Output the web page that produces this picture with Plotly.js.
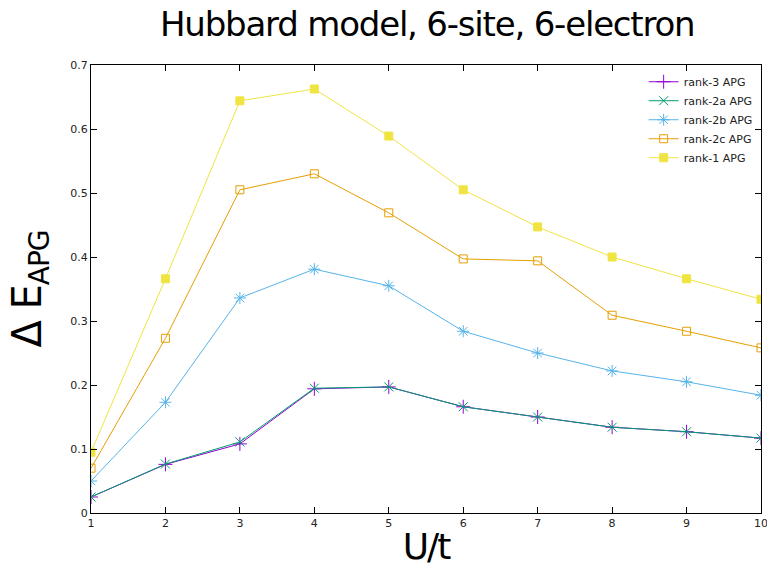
<!DOCTYPE html>
<html>
<head>
<meta charset="utf-8">
<script src="https://cdn.plot.ly/plotly-3.0.1.min.js"></script>
<style>
html,body{margin:0;padding:0;background:#fff;}
#chart{width:767px;height:567px;}
#chart .gtitle{letter-spacing:-1.2px;}
#chart .xtitle{letter-spacing:-2px;}
#chart .ytitle{letter-spacing:-1px;}
</style>
</head>
<body>
<div id="chart"></div>
<script>
const U = [1, 2, 3, 4, 5, 6, 7, 8, 9, 10];
const rank3  = [0.025, 0.076, 0.108, 0.194, 0.197, 0.166, 0.150, 0.134, 0.127, 0.117];
const rank2a = [0.025, 0.0765, 0.111, 0.195, 0.197, 0.166, 0.150, 0.134, 0.127, 0.117];
const rank2b = [0.050, 0.173, 0.336, 0.381, 0.355, 0.284, 0.250, 0.222, 0.205, 0.184];
const rank2c = [0.070, 0.273, 0.505, 0.530, 0.469, 0.397, 0.394, 0.309, 0.284, 0.258];
const rank1  = [0.095, 0.366, 0.644, 0.6625, 0.589, 0.505, 0.447, 0.400, 0.366, 0.334];
const seriesNames = ["rank-3 APG", "rank-2a APG", "rank-2b APG", "rank-2c APG", "rank-1 APG"];
const xTicks = [1, 2, 3, 4, 5, 6, 7, 8, 9, 10];
const yTicks = [0, 0.1, 0.2, 0.3, 0.4, 0.5, 0.6, 0.7];
const yTickText = ["0", "0.1", "0.2", "0.3", "0.4", "0.5", "0.6", "0.7"];

const colors = ["#9400d3", "#009e73", "#56b4e9", "#e69f00", "#f0e442"];
const symbols = ["cross-thin-open", "x-thin-open", "asterisk-open", "square-open", "square"];
const sizes = [10, 9, 10, 8, 8];
const ys = [rank3, rank2a, rank2b, rank2c, rank1];

const traces = ys.map((y, i) => ({
  x: U, y: y, name: seriesNames[i], type: "scatter", mode: "lines+markers",
  line: {color: colors[i], width: 1},
  marker: {symbol: symbols[i], size: sizes[i], color: colors[i], line: {color: colors[i], width: 1}}
}));

const axisCommon = {
  showgrid: false, zeroline: false, showline: true, mirror: "allticks",
  linecolor: "#000", linewidth: 1, ticks: "inside", ticklen: 6, tickcolor: "#000",
  ticklabeloverflow: "allow",
  tickfont: {family: "DejaVu Sans", size: 11, color: "#222"}
};

const layout = {
  width: 767, height: 567,
  margin: {l: 91, r: 6, t: 65, b: 54},
  paper_bgcolor: "#fff", plot_bgcolor: "#fff",
  title: {text: "Hubbard model, 6-site, 6-electron", x: 0.557, xanchor: "center", y: 0.957, yanchor: "middle",
          font: {family: "DejaVu Sans", size: 34, color: "#000"}},
  xaxis: Object.assign({}, axisCommon, {range: [1, 10], tickvals: xTicks, ticktext: xTicks.map(String),
    title: {text: "U/t", font: {family: "DejaVu Sans", size: 36, color: "#000"}, standoff: 4}}),
  yaxis: Object.assign({}, axisCommon, {range: [0, 0.7], tickvals: yTicks, ticktext: yTickText,
    title: {text: "Δ E<sub>APG</sub>", font: {family: "DejaVu Sans", size: 40, color: "#000"}, standoff: 16}}),
  legend: {x: 0.995, y: 0.995, xanchor: "right", yanchor: "top", bgcolor: "rgba(0,0,0,0)",
           font: {family: "DejaVu Sans", size: 11, color: "#222"}, tracegroupgap: 0, itemwidth: 30},
  showlegend: true
};

Plotly.newPlot("chart", traces, layout, {displayModeBar: false, staticPlot: true});
</script>
</body>
</html>
